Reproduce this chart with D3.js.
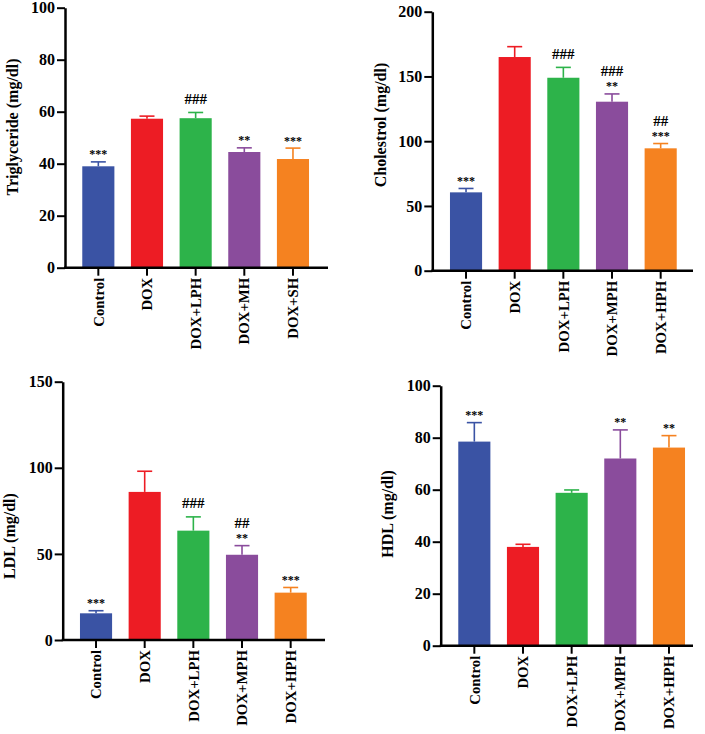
<!DOCTYPE html>
<html>
<head>
<meta charset="utf-8">
<script src="https://cdn.jsdelivr.net/npm/d3@7"></script>
<style>
  body { margin: 0; background: #fff; }
  svg text { font-family: "Liberation Serif", "Times New Roman", serif; font-weight: bold; }
</style>
</head>
<body>
<svg width="705" height="734"></svg>
<script>
var colors = ["#3A53A4", "#ED1C24", "#2DB34A", "#8A4C9C", "#F58220"];

var trigCategories = ["Control", "DOX", "DOX+LPH", "DOX+MH", "DOX+SH"];
var trigValues = [39, 57.3, 57.5, 44.5, 41.8];
var trigErrors = [1.7, 1, 2.2, 1.6, 4.2];
var trigMarks = [["***"], [], ["###"], ["**"], ["***"]];
var trigTicks = [0, 20, 40, 60, 80, 100];

var phCategories = ["Control", "DOX", "DOX+LPH", "DOX+MPH", "DOX+HPH"];

var cholValues = [60.5, 165, 149, 130.5, 94.5];
var cholErrors = [3, 8, 8, 6, 3.7];
var cholMarks = [["***"], [], ["###"], ["###", "**"], ["##", "***"]];
var cholTicks = [0, 50, 100, 150, 200];

var ldlValues = [15.5, 86, 63.5, 49.5, 27.5];
var ldlErrors = [1.5, 12, 8, 5.3, 3];
var ldlMarks = [["***"], [], ["###"], ["##", "**"], ["***"]];
var ldlTicks = [0, 50, 100, 150];

var hdlValues = [78.5, 38, 58.8, 72, 76.2];
var hdlErrors = [7.3, 1, 1.1, 11, 4.6];
var hdlMarks = [["***"], [], [], ["**"], ["**"]];
var hdlTicks = [0, 20, 40, 60, 80, 100];

var panels = [
  { title: "Triglyceride (mg/dl)", cats: trigCategories, vals: trigValues, errs: trigErrors, marks: trigMarks, ticks: trigTicks,
    ax: 65, axEnd: 328, band: [74, 317.3], yTop: 7.7, y0: 267.7, lx: 18, ly: 127 },
  { title: "Cholestrol (mg/dl)", cats: phCategories, vals: cholValues, errs: cholErrors, marks: cholMarks, ticks: cholTicks,
    ax: 432.3, axEnd: 693, band: [441.7, 685], yTop: 11.7, y0: 270.7, lx: 386, ly: 125 },
  { title: "LDL (mg/dl)", cats: phCategories, vals: ldlValues, errs: ldlErrors, marks: ldlMarks, ticks: ldlTicks,
    ax: 62.7, axEnd: 325, band: [71.7, 315], yTop: 381.7, y0: 640, lx: 15, ly: 536 },
  { title: "HDL (mg/dl)", cats: phCategories, vals: hdlValues, errs: hdlErrors, marks: hdlMarks, ticks: hdlTicks,
    ax: 440.7, axEnd: 693, band: [450, 693.3], yTop: 385.7, y0: 645.7, lx: 393, ly: 514 }
];

var svg = d3.select("svg");

panels.forEach(function(p) {
  var g = svg.append("g");
  var x = d3.scaleBand().domain(p.cats).range(p.band).paddingInner(0.34).paddingOuter(0.17);
  var y = d3.scaleLinear().domain([0, d3.max(p.ticks)]).range([p.y0, p.yTop]);
  var bw = x.bandwidth();

  p.cats.forEach(function(c, i) {
    var cx = x(c) + bw / 2;
    g.append("rect")
      .attr("x", x(c)).attr("y", y(p.vals[i]))
      .attr("width", bw).attr("height", p.y0 - y(p.vals[i]))
      .attr("fill", colors[i]);
    var top = y(p.vals[i] + p.errs[i]);
    g.append("line")
      .attr("x1", cx).attr("x2", cx).attr("y1", y(p.vals[i])).attr("y2", top)
      .attr("stroke", colors[i]).attr("stroke-width", 1.6);
    g.append("line")
      .attr("x1", cx - 7.5).attr("x2", cx + 7.5).attr("y1", top).attr("y2", top)
      .attr("stroke", colors[i]).attr("stroke-width", 1.6);

    // stack the significance marks upward from the error cap
    var base = top;
    var m = p.marks[i].slice().reverse();
    m.forEach(function(s, k) {
      var star = s.charAt(0) == "*";
      var yb;
      if (star) { yb = base - 3.5; base = yb - 5.5; }
      else { yb = base - 8.5; base = yb - 10; }
      g.append("text")
        .attr("x", cx).attr("y", yb)
        .attr("text-anchor", "middle")
        .attr("font-size", star ? 12 : 15)
        .text(s);
    });
  });

  var yAxis = d3.axisLeft(y).tickValues(p.ticks).tickSize(8).tickSizeOuter(0).tickPadding(2);
  var ya = g.append("g").attr("transform", "translate(" + p.ax + ",0)").call(yAxis);
  ya.selectAll("path").attr("stroke-width", 2.5);
  ya.selectAll("line").attr("stroke-width", 2);
  ya.selectAll("text").attr("font-size", 16).attr("fill", "#000");

  var xAxis = d3.axisBottom(x).tickSize(8).tickSizeOuter(0);
  var xa = g.append("g").attr("transform", "translate(0," + p.y0 + ")").call(xAxis);
  xa.select("path").remove();
  xa.selectAll("line").attr("stroke-width", 2);
  xa.selectAll("text")
    .attr("font-size", 14.8).attr("fill", "#000")
    .attr("transform", "rotate(-90)")
    .attr("text-anchor", "end")
    .attr("x", -10).attr("y", 0).attr("dy", "0.35em");

  g.append("line")
    .attr("x1", p.ax - 1).attr("x2", p.axEnd).attr("y1", p.y0).attr("y2", p.y0)
    .attr("stroke", "#000").attr("stroke-width", 2.5);

  g.append("text")
    .attr("transform", "translate(" + p.lx + "," + p.ly + ") rotate(-90)")
    .attr("text-anchor", "middle")
    .attr("font-size", 16)
    .text(p.title);
});
</script>
</body>
</html>
